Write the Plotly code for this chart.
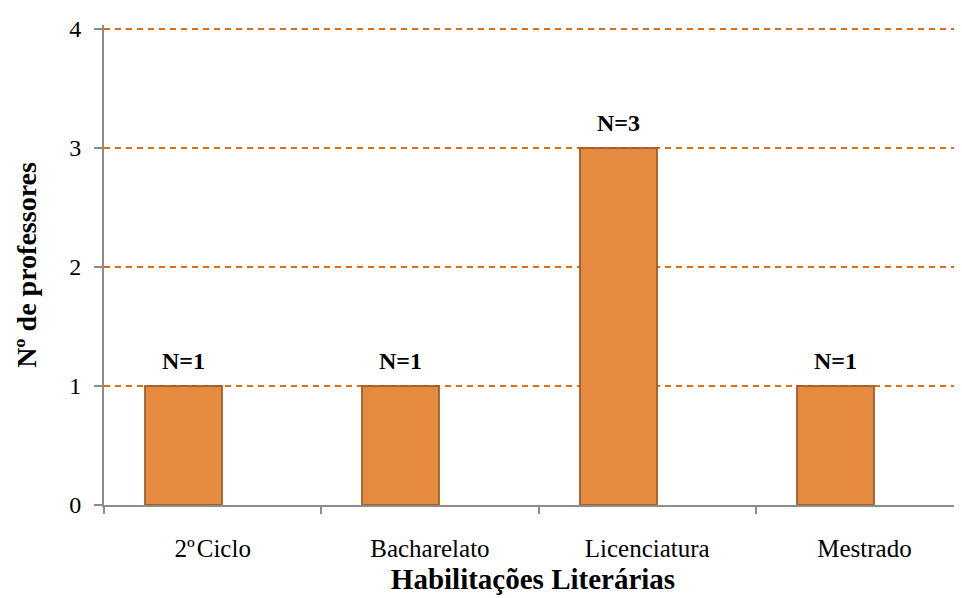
import plotly.graph_objects as go

categorias = ['2º\u200aCiclo', 'Bacharelato', 'Licenciatura', 'Mestrado']
professores = [1, 1, 3, 1]
rotulos = ['N=1', 'N=1', 'N=3', 'N=1']
y_ticks = [0, 1, 2, 3, 4]

laranja = '#E68A40'
grelha = '#E46C0A'
cinza = '#8C8C8C'
serif = 'Liberation Serif, Times New Roman, serif'

# bars sit left of category centre (second, empty series in the original)
desloc = -0.311
largura = 0.355

fig = go.Figure()

fig.add_trace(go.Bar(
    x=categorias, y=professores,
    offset=desloc, width=largura,
    marker=dict(color=laranja, line=dict(color='rgba(150,88,38,0.85)', width=2)),
    showlegend=False, hoverinfo='skip'))

for c, v, t in zip(categorias, professores, rotulos):
    fig.add_annotation(
        x=c, y=v, text='<b>%s</b>' % t, showarrow=False,
        xshift=(desloc + largura / 2) * 217, yshift=25,
        font=dict(family=serif, size=24, color='black'))

# page body adds 8px offset, so margins are trimmed by that
fig.update_layout(
    width=962, height=598,
    margin=dict(l=96, r=8, t=12, b=101),
    plot_bgcolor='white', paper_bgcolor='white',
    font=dict(family=serif, color='black'),
    bargap=0,
    xaxis=dict(
        range=[-0.5, 3.449],
        showline=True, linecolor=cinza, linewidth=2,
        ticks='outside', tickson='boundaries', ticklen=7, tickcolor=cinza, tickwidth=2,
        tickfont=dict(size=25), showgrid=False, ticklabelstandoff=20,
        title=dict(text='<b>Habilitações Literárias</b>', font=dict(size=29), standoff=8),
    ),
    yaxis=dict(
        range=[0, 4.03], tickvals=y_ticks,
        showline=True, linecolor=cinza, linewidth=2,
        ticks='outside', ticklen=8, tickcolor=cinza, tickwidth=2,
        tickfont=dict(size=24), zeroline=False, ticklabelstandoff=8,
        showgrid=True, gridcolor=grelha, gridwidth=2, griddash='6px,5px',
        title=dict(text='<b>Nº de professores</b>', font=dict(size=28), standoff=24),
    ),
)

fig.write_html('out.html')
